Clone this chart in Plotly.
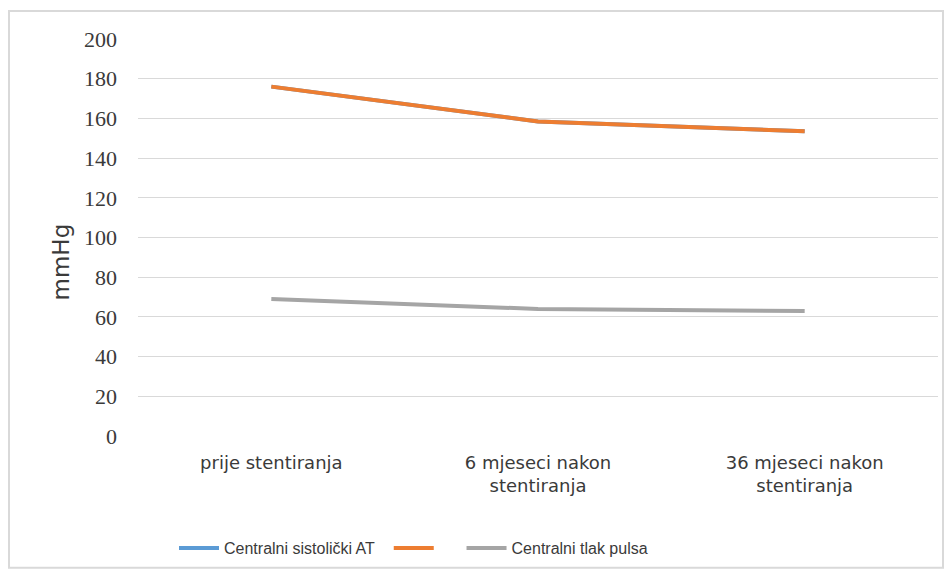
import plotly.graph_objects as go

categories = ["prije stentiranja", "6 mjeseci nakon<br>stentiranja", "36 mjeseci nakon<br>stentiranja"]
sistolicki = [176, 158.5, 153.5]
sistolicki_dup = [176, 158.5, 153.5]
tlak_pulsa = [69, 64, 63]
y_ticks = list(range(0, 201, 20))
series_names = ["Centralni sistolički AT\u00a0\u00a0", "\u00a0\u00a0\u00a0\u00a0", "Centralni tlak pulsa"]

# page has an 8px body margin; work in page pixels and convert
OFF = 8
W, H = 936, 562
L, R, T, B = 138 - OFF, 6, 39 - OFF, 133
pw, ph = W - L - R, H - T - B


def px(x):
    return (x - OFF - L) / pw


def py(y):
    return (H - B - (y - OFF)) / ph


sans = "DejaVu Sans, Liberation Sans, Arial"
cond = "Liberation Sans Narrow, Liberation Sans, Arial"
serif = "Liberation Serif, DejaVu Serif, serif"
txt = "#3a3a3a"

fig = go.Figure()
fig.add_trace(go.Scatter(x=categories, y=sistolicki, mode="lines", name=series_names[0],
                         line=dict(color="#5B9BD5", width=4)))
fig.add_trace(go.Scatter(x=categories, y=sistolicki_dup, mode="lines", name=series_names[1],
                         line=dict(color="#ED7D31", width=4)))
fig.add_trace(go.Scatter(x=categories, y=tlak_pulsa, mode="lines", name=series_names[2],
                         line=dict(color="#A5A5A5", width=4)))

fig.update_layout(
    width=W, height=H,
    margin=dict(l=L, r=R, t=T, b=B),
    paper_bgcolor="white", plot_bgcolor="white",
    font=dict(family=sans, color=txt, size=17),
    showlegend=True,
    legend=dict(orientation="h", x=px(178) - 0.005, xanchor="left", y=py(548), yanchor="middle",
                font=dict(size=16, color=txt, family=cond), itemwidth=40, tracegroupgap=0),
    xaxis=dict(showgrid=False, showline=False, zeroline=False, ticks="",
               tickfont=dict(size=18, color=txt, family=sans), range=[-0.5, 2.5],
               ticklabelstandoff=14),
    yaxis=dict(range=[0, 200], tickvals=y_ticks, showgrid=True, gridcolor="#D9D9D9", gridwidth=1,
               zeroline=False, showline=False, ticks="", ticklabelstandoff=20,
               tickfont=dict(size=22, color=txt, family=serif)),
    annotations=[dict(text="mmHg", textangle=-90, xref="paper", yref="paper",
                      x=px(61), y=py(263), xanchor="center", yanchor="middle", showarrow=False,
                      font=dict(size=23, color=txt, family=sans))],
    shapes=[dict(type="rect", xref="paper", yref="paper",
                 x0=px(9), x1=px(943), y0=py(569), y1=py(11),
                 line=dict(color="#D9D9D9", width=2), layer="below")],
)

fig.write_html("out.html")
